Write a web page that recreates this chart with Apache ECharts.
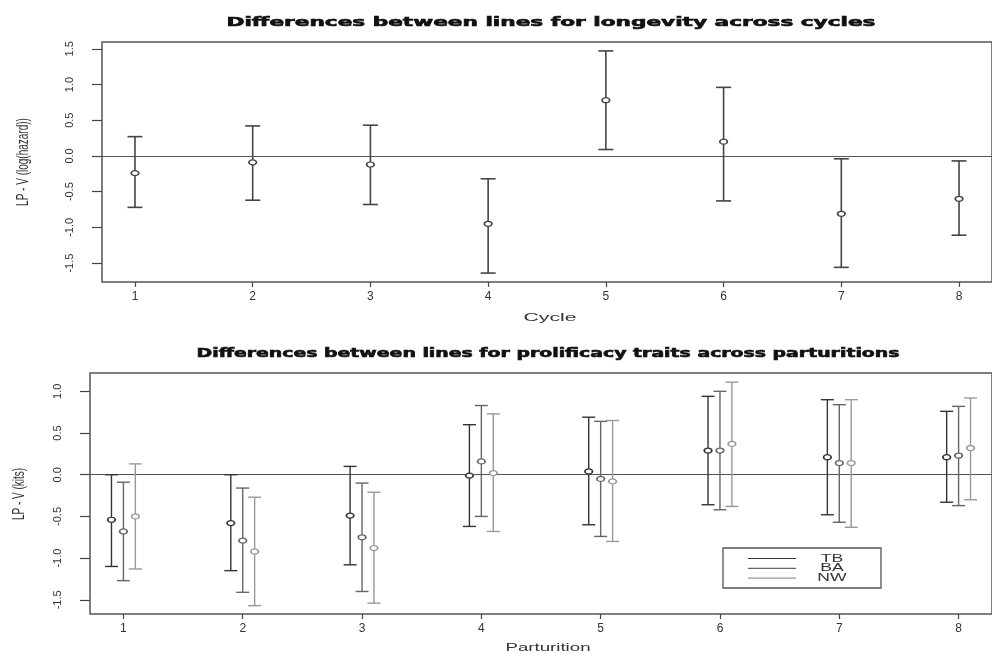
<!DOCTYPE html>
<html><head><meta charset="utf-8">
<script src="https://cdn.jsdelivr.net/npm/echarts@6/dist/echarts.min.js"></script>
<style>html,body{margin:0;padding:0;background:#fff}#c{width:992px;height:654px}</style>
</head><body><div id="c"></div>
<script>
// ---- Data ----
const cycles = [1, 2, 3, 4, 5, 6, 7, 8];
const longevityMean = [-0.24, -0.09, -0.12, -0.95, 0.78, 0.20, -0.81, -0.60];
const longevityLow  = [-0.72, -0.62, -0.68, -1.64, 0.09, -0.63, -1.56, -1.11];
const longevityHigh = [0.27, 0.42, 0.43, -0.32, 1.47, 0.96, -0.04, -0.07];

const parturitions = [1, 2, 3, 4, 5, 6, 7, 8];
const traitNames = ['TB', 'BA', 'NW'];
const tbMean = [-0.54, -0.58, -0.49, -0.01, 0.04, 0.29, 0.21, 0.21];
const tbLow  = [-1.10, -1.15, -1.08, -0.62, -0.60, -0.36, -0.48, -0.33];
const tbHigh = [0.00, 0.00, 0.10, 0.60, 0.69, 0.94, 0.90, 0.76];
const baMean = [-0.68, -0.79, -0.75, 0.16, -0.05, 0.29, 0.14, 0.23];
const baLow  = [-1.27, -1.41, -1.40, -0.50, -0.74, -0.42, -0.57, -0.37];
const baHigh = [-0.09, -0.16, -0.10, 0.83, 0.64, 1.00, 0.84, 0.82];
const nwMean = [-0.50, -0.92, -0.88, 0.02, -0.08, 0.37, 0.14, 0.32];
const nwLow  = [-1.13, -1.57, -1.54, -0.68, -0.80, -0.38, -0.63, -0.30];
const nwHigh = [0.13, -0.27, -0.21, 0.73, 0.65, 1.11, 0.90, 0.92];

const xTickValues = [1, 2, 3, 4, 5, 6, 7, 8];
const yTicksTop = [-1.5, -1.0, -0.5, 0.0, 0.5, 1.0, 1.5];
const yTicksBottom = [-1.5, -1.0, -0.5, 0.0, 0.5, 1.0];

const titleTop = 'Differences between lines for longevity across cycles';
const titleBottom = 'Differences between lines for prolificacy traits across parturitions';
const xNameTop = 'Cycle';
const xNameBottom = 'Parturition';
const yNameTop = 'LP - V (log(hazard))';
const yNameBottom = 'LP - V (kits)';

// ---- Helpers ----
const ctx = document.createElement('canvas').getContext('2d');
function measure(text, font) { ctx.font = font; return ctx.measureText(text).width; }
function stretchedText(text, font, cx, cy, targetW, color, strokeW) {
  const w = measure(text, font);
  const style = { text: text, font: font, fill: color, align: 'center', verticalAlign: 'middle', textAlign: 'center', textVerticalAlign: 'middle' };
  if (strokeW) { style.stroke = color; style.lineWidth = strokeW; }
  return { type: 'text', x: cx, y: cy, scaleX: targetW / w, silent: true, style: style };
}
function rotatedStretched(text, font, cx, cy, sx, color) {
  return {
    type: 'group', x: cx, y: cy, scaleX: sx, silent: true,
    children: [{
      type: 'text', rotation: Math.PI / 2,
      style: { text: text, font: font, fill: color, align: 'center', verticalAlign: 'middle', textAlign: 'center', textVerticalAlign: 'middle' }
    }]
  };
}

function errorBars(name, xs, mean, low, high, offset, color, capHalf, lw, gi, withZero) {
  const s = {
    type: 'custom', name: name, xAxisIndex: gi, yAxisIndex: gi,
    data: xs.map((x, i) => [x + offset, mean[i], low[i], high[i]]),
    encode: { x: 0, y: [1, 2, 3] },
    renderItem: function (params, api) {
      const x = api.value(0);
      const pm = api.coord([x, api.value(1)]);
      const pl = api.coord([x, api.value(2)]);
      const ph = api.coord([x, api.value(3)]);
      const st = { stroke: color, lineWidth: lw };
      return {
        type: 'group', children: [
          { type: 'line', shape: { x1: pl[0], y1: pl[1], x2: ph[0], y2: ph[1] }, style: st },
          { type: 'line', shape: { x1: ph[0] - capHalf, y1: ph[1], x2: ph[0] + capHalf, y2: ph[1] }, style: st },
          { type: 'line', shape: { x1: pl[0] - capHalf, y1: pl[1], x2: pl[0] + capHalf, y2: pl[1] }, style: st },
          { type: 'circle', x: pm[0], y: pm[1], scaleX: 1.5, shape: { cx: 0, cy: 0, r: 2.5 },
            style: { fill: '#fff', stroke: color, lineWidth: 1.2 } }
        ]
      };
    },
    z: 3
  };
  if (withZero) {
    s.markLine = {
      silent: true, symbol: 'none', animation: false, label: { show: false },
      lineStyle: { color: '#555', width: 1.2, type: 'solid' },
      data: [{ yAxis: 0 }], z: 1
    };
  }
  return s;
}

function xAxis(gi, ticks) {
  return {
    type: 'value', gridIndex: gi, min: 0.72, max: 8.28,
    axisLine: { show: false, onZero: false }, splitLine: { show: false },
    axisTick: { show: true, length: 5, customValues: ticks, lineStyle: { color: '#444', width: 1.2 } },
    axisLabel: { customValues: ticks, margin: 9, color: '#333', fontSize: 12, fontFamily: 'Liberation Sans' }
  };
}
function yAxis(gi, min, max, ticks) {
  return {
    type: 'value', gridIndex: gi, min: min, max: max,
    axisLine: { show: false, onZero: false }, splitLine: { show: false },
    axisTick: { show: true, length: 10, customValues: ticks, lineStyle: { color: '#444', width: 1.2 } },
    axisLabel: { customValues: ticks, rotate: 90, margin: 27, color: '#333', fontSize: 11,
      fontFamily: 'Liberation Sans Narrow, Liberation Sans', formatter: v => v.toFixed(1) }
  };
}

const titleFont = 'bold 12px "DejaVu Sans"';
const nameFont = '11px "Liberation Sans"';

const legendX = 723, legendY = 548;
const seriesColors = ['#333', '#666', '#999'];

const option = {
  animation: false,
  backgroundColor: '#fff',
  grid: [
    { left: 102, top: 42, width: 897, height: 240, show: true, borderColor: '#555', borderWidth: 1.5, backgroundColor: 'transparent' },
    { left: 90, top: 373, width: 915, height: 241, show: true, borderColor: '#555', borderWidth: 1.5, backgroundColor: 'transparent' }
  ],
  xAxis: [xAxis(0, xTickValues), xAxis(1, xTickValues)],
  yAxis: [yAxis(0, -1.765, 1.595, yTicksTop), yAxis(1, -1.67, 1.22, yTicksBottom)],
  series: [
    errorBars('Longevity', cycles, longevityMean, longevityLow, longevityHigh, 0, '#444', 7.5, 1.6, 0, true),
    errorBars(traitNames[0], parturitions, tbMean, tbLow, tbHigh, -0.1, seriesColors[0], 6.5, 1.4, 1, true),
    errorBars(traitNames[1], parturitions, baMean, baLow, baHigh, 0, seriesColors[1], 6.5, 1.4, 1, false),
    errorBars(traitNames[2], parturitions, nwMean, nwLow, nwHigh, 0.1, seriesColors[2], 6.5, 1.4, 1, false)
  ],
  graphic: [
    stretchedText(titleTop, titleFont, 551, 23, 649, '#111', 0.6),
    stretchedText(titleBottom, titleFont, 548, 354, 703, '#111', 0.6),
    stretchedText(xNameTop, nameFont, 550, 318, 53, '#333'),
    stretchedText(xNameBottom, nameFont, 548, 648, 85, '#333'),
    rotatedStretched(yNameTop, '10px "Liberation Sans"', 24, 162, 1.6, '#333'),
    rotatedStretched(yNameBottom, '10px "Liberation Sans"', 20, 494, 1.6, '#333'),
    {
      type: 'group', x: legendX, y: legendY, silent: true,
      children: [
        { type: 'rect', shape: { x: 0, y: 0, width: 158, height: 40 }, style: { fill: '#fff', stroke: '#555', lineWidth: 1.3 } }
      ].concat(traitNames.map((n, i) => ({
        type: 'line', shape: { x1: 25, y1: 10.5 + i * 9.8, x2: 73, y2: 10.5 + i * 9.8 },
        style: { stroke: seriesColors[i], lineWidth: 1.2 }
      }))).concat(traitNames.map((n, i) =>
        stretchedText(n, '11px "Liberation Sans"', 109, 10.5 + i * 9.8, measure(n, '11px "Liberation Sans"') * 1.6, '#333')
      ))
    }
  ]
};

const chart = echarts.init(document.getElementById('c'), null, { renderer: 'canvas' });
chart.setOption(option);
</script>
</body></html>
